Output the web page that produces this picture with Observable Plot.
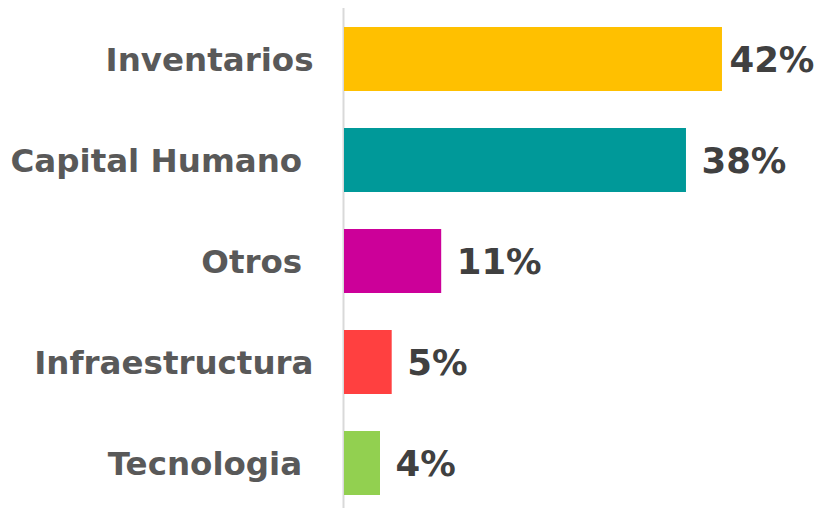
<!DOCTYPE html>
<html>
<head>
<meta charset="utf-8">
<script src="https://cdn.jsdelivr.net/npm/d3@7"></script>
<script src="https://cdn.jsdelivr.net/npm/@observablehq/plot@0.6"></script>
<style>
  html, body { margin: 0; padding: 0; background: #fff; }
  #chart svg { display: block; }
</style>
</head>
<body>
<div id="chart"></div>
<script>
const categories = ["Inventarios", "Capital Humano\u00a0", "Otros\u00a0", "Infraestructura", "Tecnologia\u00a0"];
const values = [42, 38, 10.8, 5.3, 4.0];
const valueLabels = ["42%", "38%", "11%", "5%", "4%"];
const colors = ["#FFC000", "#009999", "#CC0099", "#FF4040", "#92D050"];

const data = categories.map((c, i) => ({cat: c, value: values[i], label: valueLabels[i], color: colors[i]}));
const maxVal = d3.max(values);

const plot = Plot.plot({
  width: 817,
  height: 509,
  marginLeft: 344,
  marginRight: 0,
  marginTop: 8,
  marginBottom: 1,
  style: {fontFamily: "'DejaVu Sans', Verdana, sans-serif", background: "#fff"},
  x: {domain: [0, 52.56], axis: null},
  y: {domain: categories, padding: 0.37, paddingOuter: 0.155, range: [10.5, 510.5], label: null},
  marks: [
    Plot.ruleX([0], {stroke: "#d9d9d9", strokeWidth: 2, dx: -1}),
    Plot.barX(data, {x: "value", y: "cat", fill: "color"}),
    Plot.axisY({tickSize: 0, tickPadding: 31, fontSize: 32.5, fontWeight: "bold", fill: "#595959", label: null, dy: 1}),
    Plot.text(data.filter(d => d.value !== maxVal), {x: "value", y: "cat", text: "label", textAnchor: "start", dx: 15, dy: 1, fontSize: 35.5, fontWeight: "bold", fill: "#404040"}),
    Plot.text(data.filter(d => d.value === maxVal), {x: "value", y: "cat", text: "label", textAnchor: "start", dx: 7, dy: 1, fontSize: 35.5, fontWeight: "bold", fill: "#404040"})
  ]
});
document.getElementById("chart").appendChild(plot);
</script>
</body>
</html>
